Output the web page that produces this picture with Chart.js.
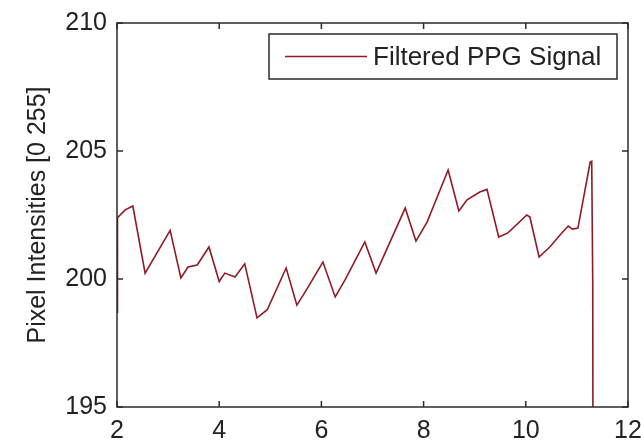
<!DOCTYPE html>
<html><head><meta charset="utf-8">
<script src="https://cdn.jsdelivr.net/npm/chart.js@4.4.0/dist/chart.umd.min.js"></script>
<style>html,body{margin:0;padding:0;background:#fff}#wrap{width:641px;height:440px}</style>
</head><body><div id="wrap"><canvas id="c" width="641" height="440"></canvas></div>
<script>
const timeSec = [2.00, 2.01, 2.16, 2.31, 2.55, 3.04, 3.25, 3.39, 3.57, 3.80, 4.00, 4.11, 4.31, 4.50, 4.74, 4.94, 5.31, 5.52, 5.68, 6.03, 6.27, 6.46, 6.85, 7.07, 7.64, 7.85, 8.07, 8.48, 8.69, 8.85, 9.10, 9.24, 9.47, 9.65, 10.02, 10.08, 10.26, 10.47, 10.67, 10.83, 10.91, 11.02, 11.26, 11.29, 11.31, 11.32];
const intensity = [198.7, 202.4, 202.7, 202.85, 200.23, 201.9, 200.04, 200.47, 200.55, 201.25, 199.9, 200.23, 200.08, 200.59, 198.48, 198.8, 200.43, 198.98, 199.49, 200.66, 199.3, 199.96, 201.45, 200.23, 202.77, 201.48, 202.23, 204.26, 202.66, 203.09, 203.4, 203.5, 201.64, 201.8, 202.5, 202.42, 200.86, 201.25, 201.72, 202.07, 201.95, 201.99, 204.57, 204.6, 199.8, 185];
const xTicks = [2, 4, 6, 8, 10, 12];
const yTicks = [195, 200, 205, 210];
const seriesLabel = 'Filtered PPG Signal';
const yTitle = 'Pixel Intensities [0 255]';

const FONT = 'Liberation Sans, Arial, Helvetica, sans-serif';
const LINE_COLOR = '#8e1b25';
const AXIS_COLOR = '#2b2b2b';
const TEXT_COLOR = '#222222';

const points = timeSec.map((t, i) => ({x: t, y: intensity[i]}));

const boxPlugin = {
  id: 'matlabBox',
  afterDatasetsDraw(chart) {
    const {ctx, chartArea: a, scales: {x, y}} = chart;
    ctx.save();
    ctx.strokeStyle = AXIS_COLOR;
    ctx.lineWidth = 1.5;
    ctx.strokeRect(a.left, a.top, a.right - a.left, a.bottom - a.top);
    const tl = 6;
    ctx.beginPath();
    xTicks.forEach(v => {
      const px = x.getPixelForValue(v);
      ctx.moveTo(px, a.bottom); ctx.lineTo(px, a.bottom - tl);
      ctx.moveTo(px, a.top); ctx.lineTo(px, a.top + tl);
    });
    yTicks.forEach(v => {
      const py = y.getPixelForValue(v);
      ctx.moveTo(a.left, py); ctx.lineTo(a.left + tl, py);
      ctx.moveTo(a.right, py); ctx.lineTo(a.right - tl, py);
    });
    ctx.stroke();

    // legend
    const bx = 269, by = 34, bw = 348, bh = 45;
    ctx.fillStyle = '#ffffff';
    ctx.fillRect(bx, by, bw, bh);
    ctx.strokeStyle = AXIS_COLOR;
    ctx.lineWidth = 1.5;
    ctx.strokeRect(bx, by, bw, bh);
    ctx.strokeStyle = LINE_COLOR;
    ctx.lineWidth = 1.5;
    ctx.beginPath();
    ctx.moveTo(285, by + bh / 2); ctx.lineTo(367, by + bh / 2);
    ctx.stroke();
    ctx.fillStyle = TEXT_COLOR;
    ctx.font = '26px ' + FONT;
    ctx.textBaseline = 'middle';
    ctx.textAlign = 'left';
    ctx.fillText(chart.data.datasets[0].label, 373, by + bh / 2 + 1);
    ctx.restore();
  }
};

new Chart(document.getElementById('c'), {
  type: 'line',
  data: {
    datasets: [{
      label: seriesLabel,
      data: points,
      borderColor: LINE_COLOR,
      borderWidth: 1.6,
      pointRadius: 0,
      tension: 0,
      fill: false
    }]
  },
  options: {
    responsive: false,
    animation: false,
    devicePixelRatio: 1,
    layout: {padding: {left: 0, right: 13, top: 23, bottom: 0}},
    plugins: {legend: {display: false}, tooltip: {enabled: false}},
    scales: {
      x: {
        type: 'linear', min: 2, max: 12,
        afterBuildTicks: s => { s.ticks = xTicks.map(v => ({value: v})); },
        afterFit: s => { s.height = 33; s.paddingLeft = 0; s.paddingRight = 0; },
        grid: {display: false, drawTicks: false},
        border: {display: false},
        ticks: {padding: 9, color: TEXT_COLOR, font: {family: FONT, size: 25}, maxRotation: 0, autoSkip: false}
      },
      y: {
        type: 'linear', min: 195, max: 210,
        afterBuildTicks: s => { s.ticks = yTicks.map(v => ({value: v})); },
        afterFit: s => { s.width = 117; s.paddingTop = 0; s.paddingBottom = 0; },
        grid: {display: false, drawTicks: false},
        border: {display: false},
        ticks: {padding: 10, color: TEXT_COLOR, font: {family: FONT, size: 25}},
        title: {display: true, text: yTitle, color: TEXT_COLOR, font: {family: FONT, size: 25}, padding: {top: 23, bottom: 0}}
      }
    }
  },
  plugins: [boxPlugin]
});
</script></body></html>
